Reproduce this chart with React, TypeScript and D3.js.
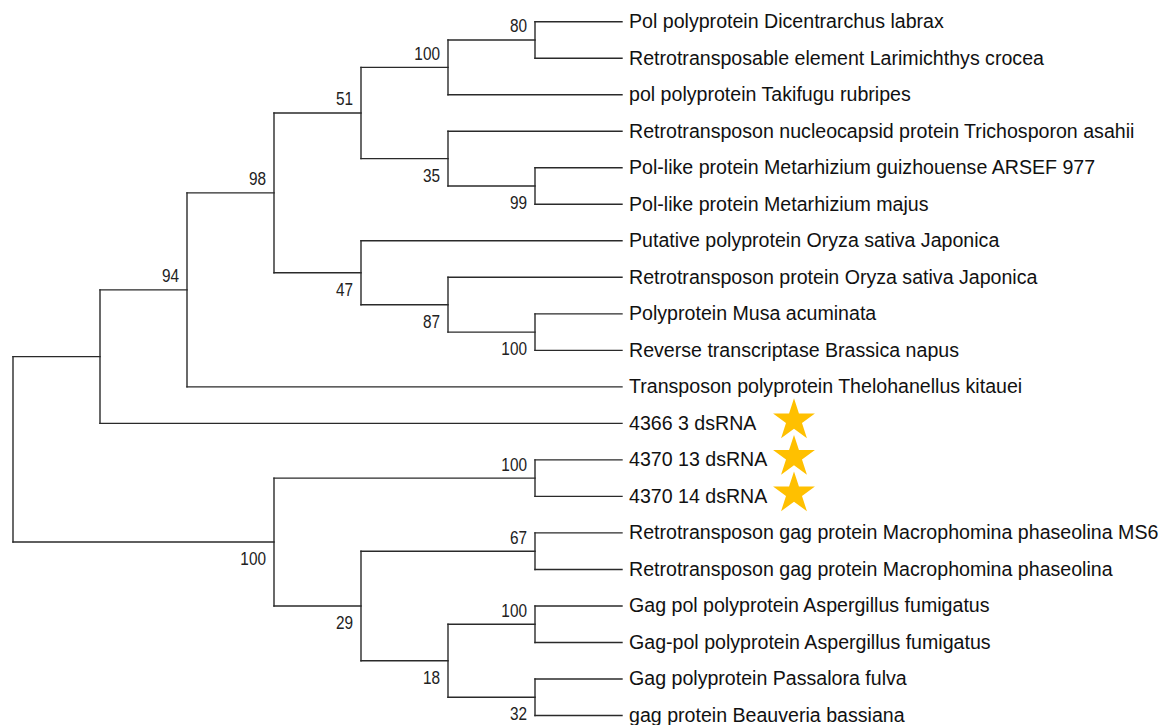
import React from "react";
import * as d3 from "d3";

const leafNames: string[] = [
  "Pol polyprotein Dicentrarchus labrax",
  "Retrotransposable element Larimichthys crocea",
  "pol polyprotein Takifugu rubripes",
  "Retrotransposon nucleocapsid protein Trichosporon asahii",
  "Pol-like protein Metarhizium guizhouense ARSEF 977",
  "Pol-like protein Metarhizium majus",
  "Putative polyprotein Oryza sativa Japonica",
  "Retrotransposon protein Oryza sativa Japonica",
  "Polyprotein Musa acuminata",
  "Reverse transcriptase Brassica napus",
  "Transposon polyprotein Thelohanellus kitauei",
  "4366 3 dsRNA",
  "4370 13 dsRNA",
  "4370 14 dsRNA",
  "Retrotransposon gag protein Macrophomina phaseolina MS6",
  "Retrotransposon gag protein Macrophomina phaseolina",
  "Gag pol polyprotein Aspergillus fumigatus",
  "Gag-pol polyprotein Aspergillus fumigatus",
  "Gag polyprotein Passalora fulva",
  "gag protein Beauveria bassiana",
];

// topology (leaf indices) with bootstrap support values
const newick =
  "(((((((0,1)80,2)100,(3,(4,5)99)35)51,(6,(7,(8,9)100)87)47)98,10)94,11),((12,13)100,((14,15)67,((16,17)100,(18,19)32)18)29)100);";

const starredLeaves: number[] = [11, 12, 13];

type TNode = { leaf?: number; boot?: string; children?: TNode[] };

function parseNewick(s: string): TNode {
  let i = 0;
  function readNode(): TNode {
    const node: TNode = {};
    if (s[i] === "(") {
      i++;
      node.children = [];
      while (true) {
        node.children.push(readNode());
        if (s[i] === ",") {
          i++;
          continue;
        }
        if (s[i] === ")") {
          i++;
          break;
        }
        break;
      }
      let lab = "";
      while (i < s.length && /[0-9]/.test(s[i])) lab += s[i++];
      if (lab) node.boot = lab;
    } else {
      let lab = "";
      while (i < s.length && /[0-9]/.test(s[i])) lab += s[i++];
      node.leaf = +lab;
    }
    return node;
  }
  return readNode();
}

const W = 1163;
const H = 725;

export default function App() {
  const root = d3.hierarchy<TNode>(parseNewick(newick));
  const x = d3.scaleLinear().domain([root.height, 0]).range([13, 622]);
  const y = d3.scaleLinear().domain([0, leafNames.length - 1]).range([21.7, 715.5]);

  const pos = new Map<any, { x: number; y: number }>();
  root.eachAfter((n: any) => {
    let yy: number;
    if (n.children) {
      yy = d3.mean(n.children, (c: any) => pos.get(c)!.y) as number;
    } else {
      yy = y(n.data.leaf);
    }
    pos.set(n, { x: x(n.height), y: yy });
  });

  const lineColor = "#2a2a2a";
  const lines: any[] = [];
  const labels: any[] = [];
  let k = 0;
  root.each((n: any) => {
    const p = pos.get(n)!;
    if (n.children) {
      const ys = n.children.map((c: any) => pos.get(c)!.y);
      lines.push(
        <line key={"v" + k++} x1={p.x} x2={p.x} y1={d3.min(ys)} y2={d3.max(ys)} stroke={lineColor} strokeWidth={1.4} strokeLinecap="square" />
      );
    }
    if (n.parent) {
      const pp = pos.get(n.parent)!;
      lines.push(
        <line key={"h" + k++} x1={pp.x} x2={p.x} y1={p.y} y2={p.y} stroke={lineColor} strokeWidth={1.4} strokeLinecap="square" />
      );
      if (n.data.boot) {
        const upper = n.parent.children.indexOf(n) === 0;
        const by = upper ? p.y - 7.5 : p.y + 23;
        labels.push(
          <text
            key={"b" + k++}
            transform={`translate(${p.x - 8},${by}) scale(0.83,1)`}
            textAnchor="end"
            fontFamily="'Liberation Sans', Arial, sans-serif"
            fontSize={18.5}
            fill="#222"
          >
            {n.data.boot}
          </text>
        );
      }
    }
  });

  const leaves = root.leaves();
  const star = d3.symbol().type(d3.symbolStar).size((22 * 22) / 0.8908130915);
  const starPath = star() as string;

  return (
    <svg width={W} height={H} style={{ position: "absolute", left: 0, top: 0, background: "#fff" }}>
      <rect x={0} y={0} width={W} height={H} fill="#fff" />
      <g>{lines}</g>
      <g>{labels}</g>
      <g>
        {leaves.map((n: any, i: number) => {
          const p = pos.get(n)!;
          return (
            <text
              key={"l" + i}
              x={629}
              y={p.y + 6.3}
              fontFamily="'Liberation Sans', Arial, sans-serif"
              fontSize={19.6}
              fill="#111"
            >
              {leafNames[n.data.leaf]}
            </text>
          );
        })}
      </g>
      <g>
        {starredLeaves.map((li) => (
          <path key={"s" + li} d={starPath} transform={`translate(794,${y(li) - 3})`} fill="#FFC000" />
        ))}
      </g>
    </svg>
  );
}
